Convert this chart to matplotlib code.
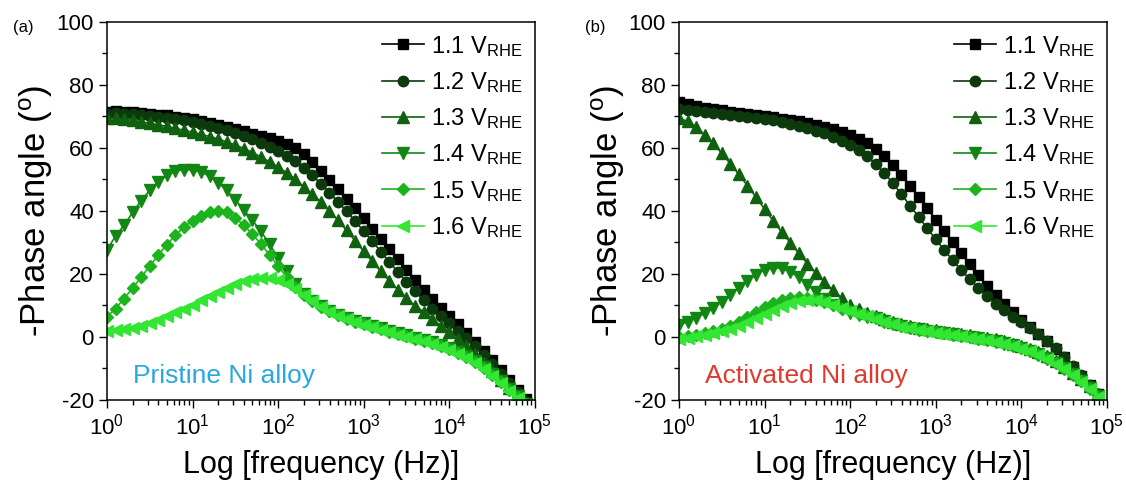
import matplotlib.pyplot as plt
import numpy as np

plt.rcParams['font.family'] = ['Liberation Sans', 'DejaVu Sans']
plt.rcParams['mathtext.fontset'] = 'custom'
plt.rcParams['mathtext.rm'] = 'Liberation Sans'
plt.rcParams['mathtext.it'] = 'Liberation Sans:italic'
plt.rcParams['axes.unicode_minus'] = False

# measured frequencies (Hz), 10 points per decade
freq = [1.0, 1.259, 1.585, 1.995, 2.512, 3.162, 3.981, 5.012, 6.310, 7.943,
        10.0, 12.59, 15.85, 19.95, 25.12, 31.62, 39.81, 50.12, 63.10, 79.43,
        100.0, 125.9, 158.5, 199.5, 251.2, 316.2, 398.1, 501.2, 631.0, 794.3,
        1000.0, 1259, 1585, 1995, 2512, 3162, 3981, 5012, 6310, 7943,
        10000, 12589, 15849, 19953, 25119, 31623, 39811, 50119, 63096, 79433]

labels = ['1.1', '1.2', '1.3', '1.4', '1.5', '1.6']

# (a) pristine Ni alloy, -phase (deg)
a_11 = [71.5, 71.6, 71.5, 71.3, 71.1, 70.9, 70.6, 70.3, 69.9, 69.5,
        69.1, 68.6, 68.0, 67.4, 66.7, 66.0, 65.3, 64.5, 63.7, 63.0,
        62.2, 61.2, 60.0, 58.0, 55.6, 52.8, 49.9, 46.9, 43.9, 40.8,
        37.6, 34.4, 31.1, 27.9, 24.6, 21.3, 18.0, 14.8, 12.0, 9.3,
        6.7, 4.0, 1.3, -1.5, -4.3, -7.3, -10.5, -13.7, -16.8, -19.8]
a_12 = [70.8, 71.0, 70.9, 70.7, 70.5, 70.2, 69.9, 69.6, 69.2, 68.8,
        68.3, 67.7, 67.1, 66.4, 65.6, 64.8, 63.9, 62.9, 61.7, 60.4,
        59.0, 57.5, 55.8, 53.7, 51.3, 48.6, 45.8, 42.9, 39.9, 36.8,
        33.6, 30.4, 27.1, 23.8, 20.6, 17.5, 14.5, 11.6, 9.0, 6.6,
        4.3, 2.0, -0.4, -2.9, -5.6, -8.6, -11.7, -14.7, -17.6, -20.5]
a_13 = [69.5, 69.4, 69.1, 68.7, 68.3, 67.8, 67.3, 66.8, 66.2, 65.6,
        65.0, 64.3, 63.6, 62.8, 61.9, 60.9, 59.8, 58.5, 57.1, 55.6,
        53.9, 52.1, 50.0, 47.7, 45.3, 42.9, 40.0, 37.0, 33.8, 30.5,
        27.2, 24.0, 20.8, 17.8, 15.0, 12.4, 9.9, 8.0, 5.8, 3.6,
        1.5, -0.7, -3.0, -5.5, -8.2, -10.9, -13.6, -16.2, -18.7, -21.0]
a_14 = [27.6, 32.0, 35.5, 39.5, 43.3, 46.5, 49.3, 51.3, 52.6, 53.1,
        53.0, 52.4, 51.0, 49.0, 46.5, 43.5, 40.3, 37.0, 33.5, 29.5,
        25.0, 20.8, 16.8, 13.6, 11.5, 9.7, 8.3, 7.1, 6.1, 5.2,
        4.4, 3.6, 2.8, 2.0, 1.2, 0.5, -0.2, -0.9, -1.7, -2.6,
        -3.6, -4.7, -6.1, -7.7, -9.6, -11.7, -14.0, -16.4, -18.8, -21.2]
a_15 = [6.4, 9.0, 12.2, 15.5, 19.0, 22.5, 26.0, 29.3, 32.3, 34.9,
        36.9, 38.5, 39.6, 40.0, 39.5, 37.9, 35.4, 32.6, 29.5, 26.0,
        22.5, 19.0, 15.9, 13.3, 11.3, 9.5, 8.1, 6.9, 5.8, 4.9,
        4.1, 3.3, 2.5, 1.7, 0.9, 0.2, -0.5, -1.2, -2.0, -2.9,
        -3.9, -5.0, -6.4, -8.0, -9.9, -12.0, -14.3, -16.7, -19.1, -21.4]
a_16 = [2.0, 2.3, 2.6, 3.0, 3.6, 4.5, 5.5, 6.6, 7.8, 9.0,
        10.3, 11.7, 13.1, 14.4, 15.6, 16.7, 17.7, 18.4, 18.8, 18.7,
        18.0, 16.8, 15.2, 13.4, 11.5, 9.6, 8.0, 6.7, 5.6, 4.7,
        3.9, 3.1, 2.3, 1.5, 0.7, 0.0, -0.7, -1.4, -2.2, -3.1,
        -4.1, -5.3, -6.7, -8.3, -10.2, -12.3, -14.6, -17.0, -19.4, -21.7]

# (b) activated Ni alloy
b_11 = [74.5, 73.9, 73.3, 72.8, 72.3, 71.9, 71.5, 71.1, 70.7, 70.4,
        70.0, 69.7, 69.3, 68.9, 68.5, 68.0, 67.4, 66.7, 65.9, 65.0,
        64.0, 62.9, 61.5, 59.8, 57.5, 54.7, 51.5, 48.0, 44.4, 40.8,
        37.2, 33.6, 30.0, 26.5, 23.0, 19.6, 16.3, 13.2, 10.4, 7.8,
        5.4, 3.2, 1.0, -1.3, -3.8, -6.5, -9.4, -12.4, -15.4, -18.0]
b_12 = [72.5, 72.0, 71.6, 71.3, 71.0, 70.7, 70.4, 70.1, 69.8, 69.5,
        69.1, 68.7, 68.2, 67.6, 67.0, 66.3, 65.5, 64.6, 63.5, 62.2,
        60.8, 59.3, 57.3, 54.9, 52.0, 48.8, 45.3, 41.7, 38.1, 34.5,
        31.0, 27.6, 24.3, 21.2, 18.3, 15.5, 12.9, 10.5, 8.4, 6.4,
        4.6, 2.8, 0.9, -1.2, -3.6, -6.3, -9.2, -12.2, -15.2, -18.0]
b_13 = [69.5, 68.4, 66.6, 64.2, 61.4, 58.3, 55.0, 51.6, 48.0, 44.4,
        40.6, 36.9, 33.3, 29.9, 26.5, 23.3, 20.3, 17.5, 14.8, 12.4,
        10.3, 8.8, 7.5, 6.6, 5.6, 4.8, 4.1, 3.5, 2.9, 2.5,
        2.1, 1.7, 1.3, 0.9, 0.5, 0.1, -0.3, -0.8, -1.4, -2.1,
        -2.9, -3.8, -4.9, -6.2, -7.7, -9.4, -11.3, -13.4, -15.7, -18.2]
b_14 = [3.8, 4.8, 6.0, 7.5, 9.2, 11.2, 13.4, 15.6, 17.8, 19.8,
        21.3, 22.0, 21.8, 20.7, 18.9, 16.6, 14.2, 12.0, 10.2, 8.8,
        7.7, 6.9, 6.3, 5.9, 5.0, 4.2, 3.5, 2.9, 2.4, 2.0,
        1.6, 1.2, 0.8, 0.4, 0.0, -0.4, -0.9, -1.4, -2.0, -2.7,
        -3.5, -4.4, -5.5, -6.8, -8.3, -10.0, -11.9, -14.0, -16.3, -18.8]
b_15 = [0.0, 0.3, 0.7, 1.2, 1.8, 2.6, 3.6, 4.9, 6.4, 8.0,
        9.5, 10.8, 11.8, 12.4, 12.6, 12.4, 11.8, 11.0, 10.0, 9.0,
        8.1, 7.3, 6.6, 5.9, 4.9, 4.1, 3.4, 2.8, 2.3, 1.9,
        1.5, 1.1, 0.7, 0.3, -0.1, -0.5, -1.0, -1.5, -2.1, -2.8,
        -3.6, -4.5, -5.6, -6.9, -8.4, -10.1, -12.0, -14.1, -16.4, -18.9]
b_16 = [-0.5, -0.2, 0.2, 0.6, 1.1, 1.8, 2.6, 3.6, 4.8, 6.1,
        7.4, 8.7, 9.9, 10.8, 11.4, 11.7, 11.6, 11.1, 10.3, 9.3,
        8.3, 7.4, 6.6, 5.8, 4.8, 4.0, 3.3, 2.7, 2.2, 1.8,
        1.4, 1.0, 0.6, 0.2, -0.2, -0.6, -1.1, -1.6, -2.2, -2.9,
        -3.7, -4.6, -5.7, -7.0, -8.5, -10.2, -12.1, -14.2, -16.5, -19.0]

colors = ['#000000', '#0c3a0c', '#0f600f', '#128612', '#1cb41c', '#33e633']
markers = ['s', 'o', '^', 'v', 'D', '<']
sizes = [7, 7.5, 8.5, 8.5, 6.5, 8.5]

fig = plt.figure(figsize=(11.26, 4.86), dpi=100)
ax_a = fig.add_axes([0.095, 0.177, 0.380, 0.778])
ax_b = fig.add_axes([0.603, 0.177, 0.380, 0.778])

panels = [(ax_a, [a_11, a_12, a_13, a_14, a_15, a_16], '(a)', 'Pristine Ni alloy', '#29a8df'),
          (ax_b, [b_11, b_12, b_13, b_14, b_15, b_16], '(b)', 'Activated Ni alloy', '#e03a2e')]

for ax, series, tag, note, note_color in panels:
    for vals, lab, c, m, s in zip(series, labels, colors, markers, sizes):
        ax.plot(freq, vals, color=c, marker=m, ms=s, mec=c, lw=1.2,
                label=lab + r' V$_{\rm RHE}$')
    ax.set_xscale('log')
    ax.set_xlim(1, 1e5)
    ax.set_ylim(-20, 100)
    ax.set_yticks(np.arange(-20, 101, 20))
    ax.set_yticks(np.arange(-10, 100, 20), minor=True)
    ax.tick_params(axis='both', which='major', labelsize=16, length=6, width=1)
    ax.tick_params(axis='both', which='minor', length=3.5, width=1)
    for sp in ax.spines.values():
        sp.set_linewidth(1.1)
    ax.set_xlabel('Log [frequency (Hz)]', fontsize=22, labelpad=8)
    ax.set_ylabel(r'-Phase angle ($^{\rm o}$)', fontsize=25, labelpad=1)
    ax.text(0.06, 0.045, note, transform=ax.transAxes, fontsize=19,
            color=note_color)
    ax.text(-0.22, 0.985, tag, transform=ax.transAxes, fontsize=12,
            va='center')
    leg = ax.legend(loc='upper right', frameon=False, fontsize=17,
                    handlelength=1.8, labelspacing=0.48, handletextpad=0.3,
                    borderaxespad=0.2, borderpad=0.3)

fig.savefig('out.png', dpi=100)
